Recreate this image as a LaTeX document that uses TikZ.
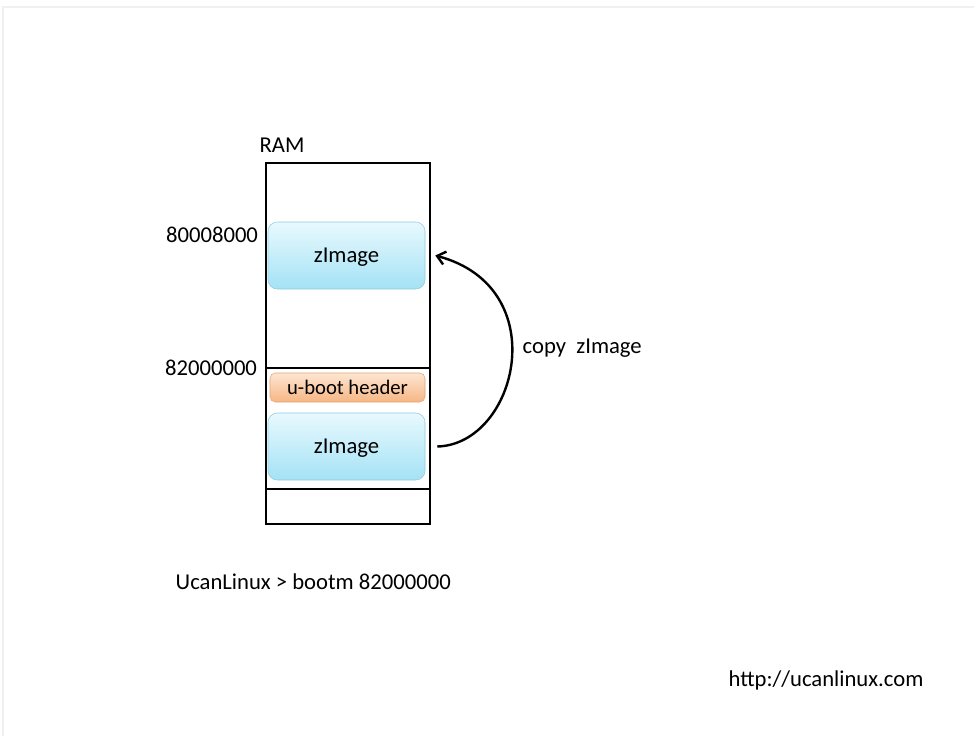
\documentclass[tikz,border=0pt]{standalone}
\usepackage{fontspec}
\setmainfont{Carlito}
\usepackage{tikz}
\usetikzlibrary{arrows.meta}
\definecolor{zlight}{HTML}{E8F9FE}
\definecolor{zdark}{HTML}{A4E2F5}
\definecolor{zedge}{HTML}{8CCBDD}
\definecolor{hlight}{HTML}{FDE6D2}
\definecolor{hdark}{HTML}{F6B684}
\definecolor{hedge}{HTML}{E3A270}

\begin{document}
\begin{tikzpicture}[x=0.75pt, y=-0.75pt, font=\fontsize{17}{20}\selectfont,
	zbox/.style = {draw=zedge, rounded corners=7pt, top color=zlight, bottom color=zdark, minimum width=117.75pt, minimum height=50.25pt, inner sep=0pt, text depth=0pt},
	hbox/.style = {draw=hedge, rounded corners=4pt, top color=hlight, bottom color=hdark, minimum width=116.25pt, minimum height=21.75pt, inner sep=0pt, font=\fontsize{15.5}{18}\selectfont}]
	\useasboundingbox (0,0) rectangle (974,736);
	\draw [gray!12, line width=1.5pt] (3,736) -- (3,7) -- (974,7);
	
	% memory map
	\draw [line width=1.8pt] (266,163) rectangle (430,524);
	\draw [line width=1.8pt] (266,368) -- (430,368);
	\draw [line width=1.8pt] (266,489) -- (430,489);
	\node (ram) at (282,145) {RAM};
	
	\node [zbox] (zhigh) at (346.5,255.5) {zImage\hspace{6pt}};
	\node [hbox] (hdr) at (347.5,387.5) {u-boot header};
	\node [zbox] (zlow) at (346.5,446.5) {zImage\hspace{6pt}};
	
	\node (addrhigh) at (212,235) {80008000};
	\node (addrlow) at (211,368) {82000000};
	
	\draw [line width=1.8pt, -{Straight Barb[length=6pt, width=10pt]}] ([xshift=9pt]zlow.east) .. controls +(80,-2) and +(120,32) .. ([xshift=7.5pt]zhigh.east);
	\node [anchor=west] (copy) at (518,348) {copy\ \ zImage};
	
	\node [anchor=west] (cmd) at (171,582) {UcanLinux > bootm 82000000};
	\node (url) at (826,680) {http://ucanlinux.com};
\end{tikzpicture}
\end{document}
